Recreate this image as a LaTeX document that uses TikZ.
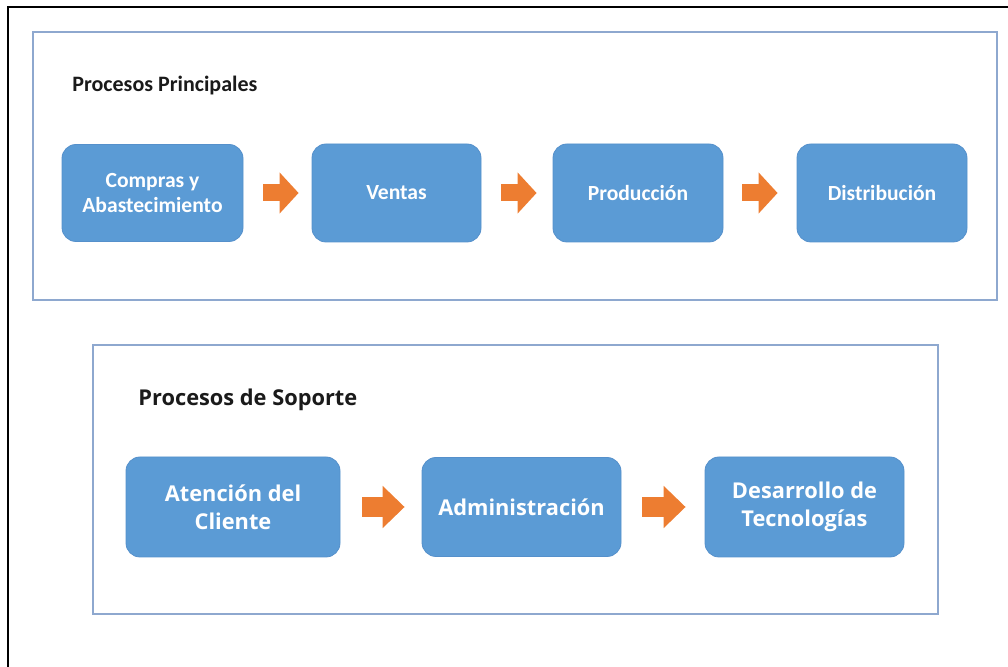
\documentclass[tikz,border=0pt]{standalone}
\usepackage{fontspec}
\setmainfont{Carlito}
\newfontfamily\soportefont{Open Sans}
\usepackage{xcolor}
\usetikzlibrary{arrows.meta,positioning}
\definecolor{cajaazul}{HTML}{5B9BD5}
\definecolor{bordeazul}{HTML}{5590CB}
\definecolor{marco}{HTML}{8EA8CF}
\definecolor{naranja}{HTML}{ED7D31}
\definecolor{titulo}{HTML}{1A1A1A}
\tikzstyle{caja} = [rectangle, rounded corners=7pt, fill=cajaazul, draw=bordeazul, line width=0.4pt, text=white, align=center, inner sep=0pt, font=\bfseries\fontsize{10.8}{12.5}\selectfont]
\tikzstyle{cajados} = [caja, font=\soportefont\bfseries\fontsize{10.9}{14}\selectfont]
\tikzstyle{flecha} = [draw=naranja, line width=8.5pt, -{Triangle[length=9.5pt,width=20pt]}]
\tikzstyle{flechados} = [draw=naranja, line width=10pt, -{Triangle[length=11pt,width=20.5pt]}]
\tikzstyle{marcoazul} = [draw=marco, line width=0.75pt]

\begin{document}
\begin{tikzpicture}[x=0.5pt,y=-0.5pt]
                \useasboundingbox (0,0) rectangle (1008,667);
                \draw[line width=1.3pt] (8,667) -- (8,7) -- (1008,7);
                % procesos principales
                \draw[marcoazul] (33,32) rectangle (997,300);
                \node [anchor=base west, inner sep=0pt, text=titulo, font=\bfseries\fontsize{11}{13}\selectfont] (tprin) at (72,92) {Procesos Principales};
                \node [caja, minimum width=90.5pt, minimum height=48.5pt] (compras) at (152.5,193) {Compras y\\Abastecimiento};
                \node [caja, minimum width=84.5pt, minimum height=49pt] (ventas) at (396.5,193) {Ventas};
                \node [caja, minimum width=85pt, minimum height=49pt] (produccion) at (638,193) {Producción};
                \node [caja, minimum width=85pt, minimum height=49pt] (distribucion) at (882,193) {Distribución};
                \draw[flecha, shorten <=10pt, shorten >=6.5pt] (compras) -- (ventas);
                \draw[flecha, shorten <=10pt, shorten >=8pt] (ventas) -- (produccion);
                \draw[flecha, shorten <=9.5pt, shorten >=9.5pt] (produccion) -- (distribucion);
                % procesos de soporte
                \draw[marcoazul] (93,345) rectangle (938,614);
                \node [anchor=base west, inner sep=0pt, text=titulo, font=\soportefont\bfseries\fontsize{10.9}{13}\selectfont] (tsop) at (138,406) {Procesos de Soporte};
                \node [cajados, minimum width=107pt, minimum height=50pt] (atencion) at (233,507) {Atención del\\Cliente};
                \node [cajados, minimum width=99.5pt, minimum height=49.5pt] (admin) at (521.5,507) {Administración};
                \node [cajados, minimum width=99.5pt, minimum height=50pt] (desarrollo) at (804.5,507) {Desarrollo de\\Tecnologías};
                \draw[flechados, shorten <=11pt, shorten >=8.5pt] (atencion) -- (admin);
                \draw[flechados, shorten <=10.5pt, shorten >=9.5pt] (admin) -- (desarrollo);
            \end{tikzpicture}
\end{document}
